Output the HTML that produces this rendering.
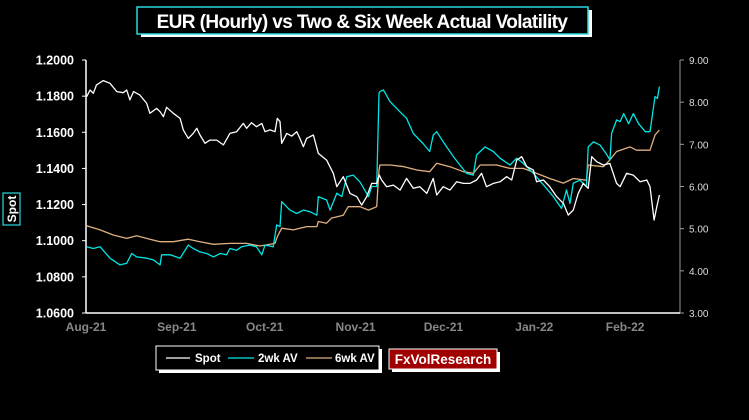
<!DOCTYPE html>
<html><head><meta charset="utf-8"><style>
html,body{margin:0;padding:0;background:#000;width:749px;height:420px;overflow:hidden}
svg{display:block;font-family:"Liberation Sans",Arial,sans-serif}
</style></head><body>
<svg id="chart" width="749" height="420" viewBox="0 0 749 420">
<g>
<rect x="141" y="10" width="451" height="27" fill="#fff"/>
<rect x="137" y="7" width="451" height="27" fill="#000" stroke="#2ad8e0" stroke-width="1.5"/>
<text x="362" y="28" text-anchor="middle" fill="#fff" font-size="19" font-weight="bold" letter-spacing="-0.6">EUR (Hourly) vs Two &amp; Six Week Actual Volatility</text>
</g>
<g>
<rect x="3" y="193" width="17" height="32" fill="#000" stroke="#2ad8e0" stroke-width="1.2"/>
<text transform="translate(16,209) rotate(-90)" text-anchor="middle" fill="#fff" font-size="12" font-weight="bold">Spot</text>
</g>
<g id="axes"></g>
<g id="series"></g>
<g>
<rect x="159" y="349" width="223" height="24" fill="#fff"/>
<rect x="156" y="346" width="223" height="24" fill="#000" stroke="#fff" stroke-width="1"/>
<line x1="166" y1="358" x2="190" y2="358" stroke="#fff" stroke-width="1.2"/>
<text x="195" y="362" fill="#fff" font-size="11.5" font-weight="bold">Spot</text>
<line x1="228" y1="358" x2="254" y2="358" stroke="#00e5e5" stroke-width="1.2"/>
<text x="258" y="362" fill="#fff" font-size="11.5" font-weight="bold">2wk AV</text>
<line x1="306" y1="358" x2="332" y2="358" stroke="#e0b080" stroke-width="1.2"/>
<text x="335" y="362" fill="#fff" font-size="11.5" font-weight="bold">6wk AV</text>
</g>
<g>
<rect x="392" y="352" width="108" height="20" fill="#fff"/>
<rect x="389" y="349" width="108" height="20" fill="#a00000" stroke="#fff" stroke-width="1"/>
<text x="443" y="364" text-anchor="middle" fill="#fff" font-size="13.5" font-weight="bold">FxVolResearch</text>
</g>
</svg>
<script>
const monthLabels=["Aug-21","Sep-21","Oct-21","Nov-21","Dec-21","Jan-22","Feb-22"];
const monthDays=[0,31,61,92,122,153,184];
const leftTicks=[1.06,1.08,1.10,1.12,1.14,1.16,1.18,1.20];
const rightTicks=[3,4,5,6,7,8,9];
const spotDays=[0.2,1.4,2.5,3.6,5.9,8.2,10.5,12.7,13.9,15.0,16.2,18.4,20.7,21.8,24.1,25.3,26.4,27.5,29.8,32.1,33.2,34.9,36.6,37.8,38.9,40.6,42.3,44.6,46.9,49.1,51.4,53.7,54.8,56.5,58.2,60.0,61.1,62.8,64.5,65.3,66.2,66.8,68.5,70.2,71.9,73.0,74.2,75.3,77.6,79.3,82.1,84.4,85.6,87.8,90.1,92.4,94.1,95.8,97.5,99.2,100.1,100.9,102.6,104.9,107.2,109.4,111.7,113.9,116.3,118.5,119.7,121.9,124.2,126.5,128.8,131.0,133.3,135.0,136.7,139.0,141.3,143.6,145.3,147.0,148.7,150.4,152.7,153.8,156.1,158.3,160.6,162.9,164.6,166.3,168.0,169.7,171.4,172.6,174.3,176.6,178.8,181.1,182.3,184.5,186.8,189.1,191.4,192.5,193.9,194.8,195.7];
const spotValues=[1.1797,1.1834,1.1816,1.1862,1.1886,1.1871,1.1825,1.1819,1.1834,1.1779,1.1825,1.1806,1.1760,1.1705,1.1732,1.1714,1.1686,1.1738,1.1705,1.1677,1.1613,1.1566,1.1594,1.1622,1.1585,1.1539,1.1557,1.1557,1.1530,1.1594,1.1603,1.1649,1.1622,1.1653,1.1631,1.1649,1.1603,1.1613,1.1603,1.1677,1.1659,1.1539,1.1594,1.1579,1.1603,1.1566,1.1520,1.1566,1.1585,1.1483,1.1446,1.1373,1.1299,1.1354,1.1262,1.1244,1.1197,1.1244,1.1317,1.1317,1.1363,1.1336,1.1299,1.1308,1.1280,1.1345,1.1290,1.1299,1.1262,1.1345,1.1253,1.1299,1.1280,1.1326,1.1317,1.1317,1.1336,1.1373,1.1299,1.1317,1.1326,1.1354,1.1336,1.1446,1.1465,1.1410,1.1391,1.1326,1.1336,1.1299,1.1244,1.1207,1.1142,1.1170,1.1262,1.1317,1.1290,1.1465,1.1437,1.1419,1.1428,1.1317,1.1299,1.1373,1.1363,1.1326,1.1336,1.1299,1.1114,1.1188,1.1253];
const vol2Days=[0.2,2.5,4.8,8.2,11.6,13.9,15.6,17.3,20.7,23.0,25.3,25.8,28.7,32.1,34.9,36.6,38.9,41.2,43.5,45.8,48.0,49.1,51.4,53.1,55.9,58.2,60.0,61.1,63.9,65.1,66.2,66.8,69.6,71.9,74.2,76.5,78.8,79.3,82.1,83.3,85.6,87.3,89.0,91.2,93.5,96.4,97.5,99.2,100.0,100.3,101.5,103.8,107.2,109.4,111.7,115.0,117.3,118.5,119.7,121.9,125.4,127.6,129.9,132.2,133.3,136.2,139.0,141.3,144.7,147.0,149.2,152.7,156.1,159.5,162.3,164.0,165.2,166.3,168.6,170.8,171.4,173.2,175.5,177.8,178.8,179.4,181.1,182.3,183.5,185.2,186.8,188.6,190.9,192.5,194.2,195.0,195.7];
const vol2Values=[4.57,4.53,4.57,4.30,4.14,4.18,4.41,4.33,4.30,4.26,4.14,4.38,4.38,4.30,4.61,4.53,4.45,4.41,4.33,4.41,4.38,4.53,4.49,4.57,4.61,4.57,4.38,4.61,4.57,5.09,5.05,5.64,5.44,5.36,5.44,5.40,5.32,5.76,5.68,5.44,5.84,5.76,6.23,6.27,6.11,5.76,6.00,6.00,8.21,8.25,8.29,8.01,7.77,7.62,7.26,7.02,6.83,7.22,7.30,7.06,6.71,6.51,6.31,6.27,6.75,6.94,6.83,6.67,6.51,6.67,6.55,6.31,6.04,5.76,5.48,5.92,5.60,6.08,6.15,6.00,6.94,7.06,6.98,6.75,6.63,7.26,7.58,7.54,7.73,7.49,7.73,7.49,7.30,7.30,8.13,8.09,8.37];
const vol6Days=[0.2,4.8,9.3,13.9,17.3,21.8,25.3,29.8,34.9,38.9,43.5,49.1,54.8,59.4,64.5,65.3,66.8,70.8,75.3,78.8,79.3,82.1,83.8,87.8,89.5,93.5,96.4,99.2,100.0,100.3,103.8,108.6,113.1,117.3,119.7,124.2,128.8,132.2,134.5,140.2,144.7,149.2,153.8,158.3,162.9,166.3,170.8,171.4,176.6,178.8,181.1,185.7,187.9,192.5,194.2,195.7];
const vol6Values=[5.07,4.97,4.85,4.77,4.83,4.75,4.69,4.69,4.75,4.69,4.63,4.65,4.65,4.59,4.65,4.81,5.01,4.97,5.05,5.05,5.17,5.13,5.25,5.32,5.52,5.52,5.44,5.52,6.39,6.51,6.51,6.47,6.39,6.35,6.55,6.47,6.35,6.31,6.51,6.51,6.43,6.43,6.31,6.19,6.08,6.19,6.15,6.51,6.47,6.63,6.83,6.94,6.86,6.86,7.22,7.34];

const X0=86,PXD=2.93,YT=60,YB=313;
const xS=d=>X0+d*PXD;
const yL=v=>YB-(v-1.06)/(1.20-1.06)*(YB-YT);
const yR=v=>YB-(v-3)/(9-3)*(YB-YT);
const NS="http://www.w3.org/2000/svg";
function mk(tag,attrs,parent){const e=document.createElementNS(NS,tag);for(const k in attrs)e.setAttribute(k,attrs[k]);parent.appendChild(e);return e;}
const axes=document.getElementById('axes'),series=document.getElementById('series');
let el=mk('line',{x1:X0,y1:YT,x2:X0,y2:YB,stroke:'#fff','stroke-width':1.5},axes);


el=mk('line',{x1:680,y1:YT,x2:680,y2:YB,stroke:'#999','stroke-width':1},axes);


el=mk('line',{x1:X0,y1:YB,x2:680,y2:YB,stroke:'#fff','stroke-width':1.5},axes);


leftTicks.forEach(v=>{const y=yL(v);
 mk('line',{x1:X0-4,y1:y,x2:X0,y2:y,stroke:'#fff'},axes);
 const t=mk('text',{x:X0-12,y:y+4.5,'text-anchor':'end',fill:'#fff','font-size':12.5,'font-weight':'bold'},axes);
 t.textContent=v.toFixed(4);
 
 });
rightTicks.forEach(v=>{const y=yR(v);
 mk('line',{x1:680,y1:y,x2:684,y2:y,stroke:'#999'},axes);
 const t=mk('text',{x:689,y:y+4,fill:'#ddd','font-size':10},axes);
 t.textContent=v.toFixed(2);
 
 });
monthLabels.forEach((m,i)=>{const t=mk('text',{x:xS(monthDays[i]),y:331,'text-anchor':'middle',fill:'#888','font-size':12,'font-weight':'bold'},axes);
 t.textContent=m;
 
 });
function line(days,vals,ys,color,name){
 const d=days.map((dd,i)=>(i?'L':'M')+xS(dd).toFixed(1)+','+ys(vals[i]).toFixed(1)).join('');
 const p=mk('path',{d:d,fill:'none',stroke:color,'stroke-width':1.3,'stroke-linejoin':'round'},series);
 
 }
line(vol6Days,vol6Values,yR,'#e0b080','line-6wk-av');
line(vol2Days,vol2Values,yR,'#00e5e5','line-2wk-av');
line(spotDays,spotValues,yL,'#ffffff','line-spot');
</script>
</body></html>
